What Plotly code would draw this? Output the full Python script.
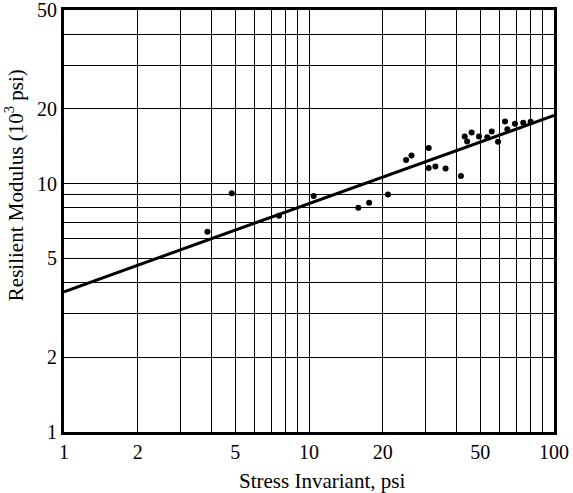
import plotly.graph_objects as go

# Data points (stress invariant psi, resilient modulus 10^3 psi)
stress = [3.85, 4.84, 7.54, 10.45, 15.9, 17.6, 21.0, 24.9, 26.2, 30.8, 30.8, 32.8, 36.1, 41.7,
          43.2, 44.2, 46.1, 49.4, 53.4, 55.7, 59.1, 63.1, 64.5, 69.3, 74.9, 80.3]
modulus = [6.4, 9.14, 7.43, 8.92, 8.0, 8.38, 9.03, 12.46, 12.97, 13.9, 11.57, 11.71, 11.5, 10.74,
           15.47, 14.77, 16.06, 15.47, 15.37, 16.2, 14.73, 17.8, 16.56, 17.4, 17.6, 17.74]

# Fitted regression line endpoints
fit_x = [1, 100]
fit_y = [3.67, 18.8]

x_grid = [1, 2, 3, 4, 5, 6, 7, 8, 9, 10, 20, 30, 40, 50, 60, 70, 80, 90, 100]
x_labels = ["1", "2", "", "", "5", "", "", "", "", "10", "20", "", "", "50", "", "", "", "", "100"]
y_grid = [1, 2, 3, 4, 5, 6, 7, 8, 9, 10, 20, 30, 40, 50]
y_labels = ["1", "2", "", "", "5", "", "", "", "", "10", "20", "", "", "50"]

x_title = "Stress Invariant, psi"
y_title = "Resilient Modulus (10<sup>3</sup> psi)"

FONT = "Liberation Serif, Times New Roman, serif"

fig = go.Figure()
fig.add_trace(go.Scatter(x=fit_x, y=fit_y, mode="lines",
                         line=dict(color="black", width=3), showlegend=False))
fig.add_trace(go.Scatter(x=stress, y=modulus, mode="markers",
                         marker=dict(color="black", size=6), showlegend=False))

fig.update_layout(
    width=573, height=493,
    margin=dict(l=64, r=19, t=10, b=61),
    paper_bgcolor="white", plot_bgcolor="white",
    font=dict(family=FONT, color="black", size=20),
    xaxis=dict(type="log", range=[0, 2], tickvals=x_grid, ticktext=x_labels,
               showgrid=True, gridcolor="black", gridwidth=1,
               showline=True, linecolor="black", linewidth=3, mirror=True,
               ticks="", tickfont=dict(size=20, family=FONT), automargin=False,
               ticklabeloverflow="allow", zeroline=False),
    yaxis=dict(type="log", range=[0, 1.69897], tickvals=y_grid, ticktext=y_labels,
               showgrid=True, gridcolor="black", gridwidth=1,
               showline=True, linecolor="black", linewidth=3, mirror=True,
               ticks="", tickfont=dict(size=20, family=FONT), automargin=False,
               ticklabeloverflow="allow", zeroline=False),
    annotations=[
        dict(text=x_title, xref="paper", yref="paper", x=0.527, y=-0.116,
             xanchor="center", yanchor="middle", showarrow=False,
             font=dict(size=21, family=FONT, color="black")),
        dict(text=y_title, xref="paper", yref="paper", x=-0.102, y=0.585,
             xanchor="center", yanchor="middle", textangle=-90, showarrow=False,
             font=dict(size=21, family=FONT, color="black")),
    ],
)

fig.write_html("out.html")
